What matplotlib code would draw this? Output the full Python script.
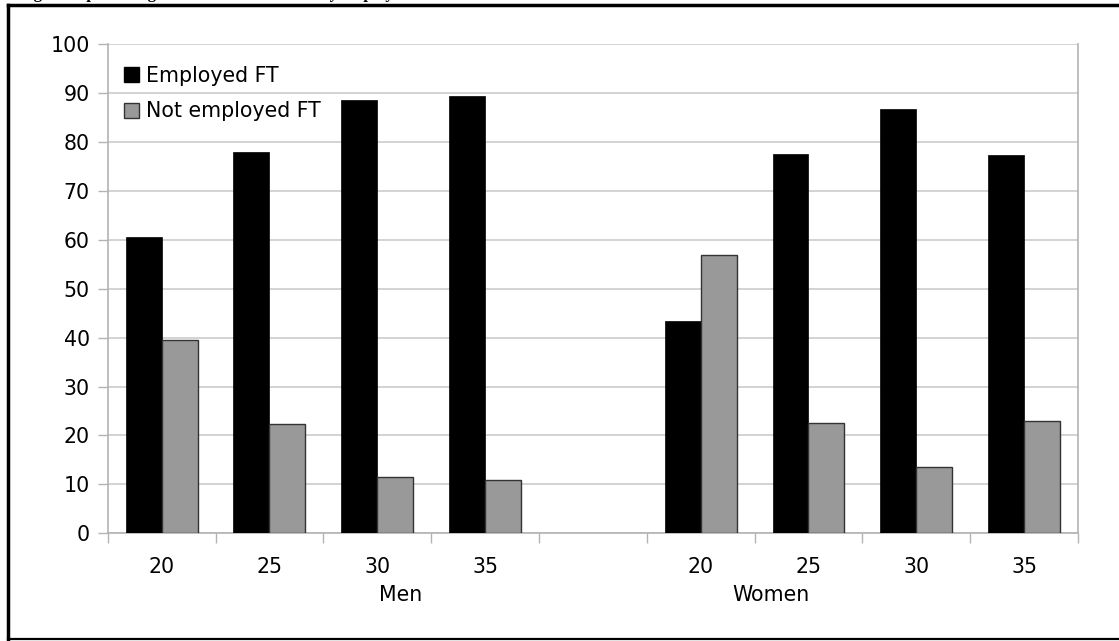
import numpy as np
import matplotlib
matplotlib.use("Agg")
import matplotlib.pyplot as plt
from matplotlib.patches import Rectangle
from matplotlib.lines import Line2D
from matplotlib.transforms import blended_transform_factory

plt.rcParams['font.family'] = ['DejaVu Sans']

# ages within each sex group, blank slot separates men and women
ages = ["20", "25", "30", "35", "", "20", "25", "30", "35"]
groups = ["Men", "Women"]
employed_ft = [60.6, 78.0, 88.6, 89.3, None, 43.4, 77.6, 86.7, 77.4]
not_employed_ft = [39.6, 22.3, 11.6, 10.8, None, 56.8, 22.6, 13.6, 23.0]
yticks = [0, 10, 20, 30, 40, 50, 60, 70, 80, 90, 100]

W, H = 1119, 641
fig = plt.figure(figsize=(W / 100, H / 100), dpi=100)

# plot area in pixels
left, right, top, bottom = 107.7, 1078, 44, 533.3
ax = fig.add_axes([left / W, 1 - bottom / H, (right - left) / W, (bottom - top) / H])

fs = 14.8
bw = 1 / 3
for i in range(len(ages)):
    if employed_ft[i] is None:
        continue
    ax.bar(i + 1 / 6, employed_ft[i], width=bw, align='edge', color='black',
           edgecolor='black', linewidth=0.5, zorder=3)
    ax.bar(i + 0.5, not_employed_ft[i], width=bw, align='edge', color='#999999',
           edgecolor='#333333', linewidth=1, zorder=3)

ax.set_xlim(0, len(ages))
ax.set_ylim(0, 100)
ax.set_yticks(yticks)
ax.set_yticklabels([str(v) for v in yticks], fontsize=fs)
ax.yaxis.grid(True, color='#cccccc', linewidth=1.2, zorder=0)
ax.set_axisbelow(True)

# boundary ticks between categories, labels at centers
ax.set_xticks(np.arange(len(ages) + 1))
ax.set_xticklabels([])
ax.set_xticks(np.arange(len(ages)) + 0.5, minor=True)
ax.set_xticklabels(ages, minor=True, fontsize=fs)
ax.tick_params(axis='x', which='major', length=7.5, width=1, color='#b3b3b3')
ax.tick_params(axis='x', which='minor', length=0, pad=17)
ax.tick_params(axis='y', length=7, width=1, color='#b3b3b3', pad=6)

for s in ax.spines.values():
    s.set_color('#b3b3b3')
    s.set_linewidth(1.2)
ax.spines['top'].set_visible(False)

# group captions under the age labels
grp_tr = blended_transform_factory(ax.transData, fig.transFigure)
ax.text(2.72, 1 - 595 / H, groups[0], transform=grp_tr,
        fontsize=fs, ha='center', va='center')
ax.text(6.15, 1 - 595 / H, groups[1], transform=grp_tr,
        fontsize=fs, ha='center', va='center')

handles = [Rectangle((0, 0), 1, 1, facecolor='black', edgecolor='black'),
           Rectangle((0, 0), 1, 1, facecolor='#999999', edgecolor='#333333')]
fig.legend(handles, ["Employed FT", "Not employed FT"], loc='upper left',
           bbox_to_anchor=(124 / W, 1 - 66 / H), frameon=False, fontsize=fs,
           handlelength=0.75, handleheight=0.75, handletextpad=0.3,
           labelspacing=0.75, borderpad=0, borderaxespad=0)

# outer frame, open on the right
fig.add_artist(Line2D([8 / W, 8 / W], [1 - 5 / H, 1 - 639 / H], color='black', lw=2.5,
                      transform=fig.transFigure))
fig.add_artist(Line2D([8 / W, 1], [1 - 5 / H, 1 - 5 / H], color='black', lw=2.5,
                      transform=fig.transFigure))
fig.add_artist(Line2D([8 / W, 1], [1 - 639 / H, 1 - 639 / H], color='black', lw=1.6,
                      transform=fig.transFigure))

# caption clipped by the top edge
fig.text(19 / W, 1 + 2 / H, "Figure 7, percentage of men and women fully employed",
         fontsize=12, fontweight='bold', family=['Liberation Serif'],
         ha='left', va='baseline')

fig.savefig("out.png", dpi=100)
